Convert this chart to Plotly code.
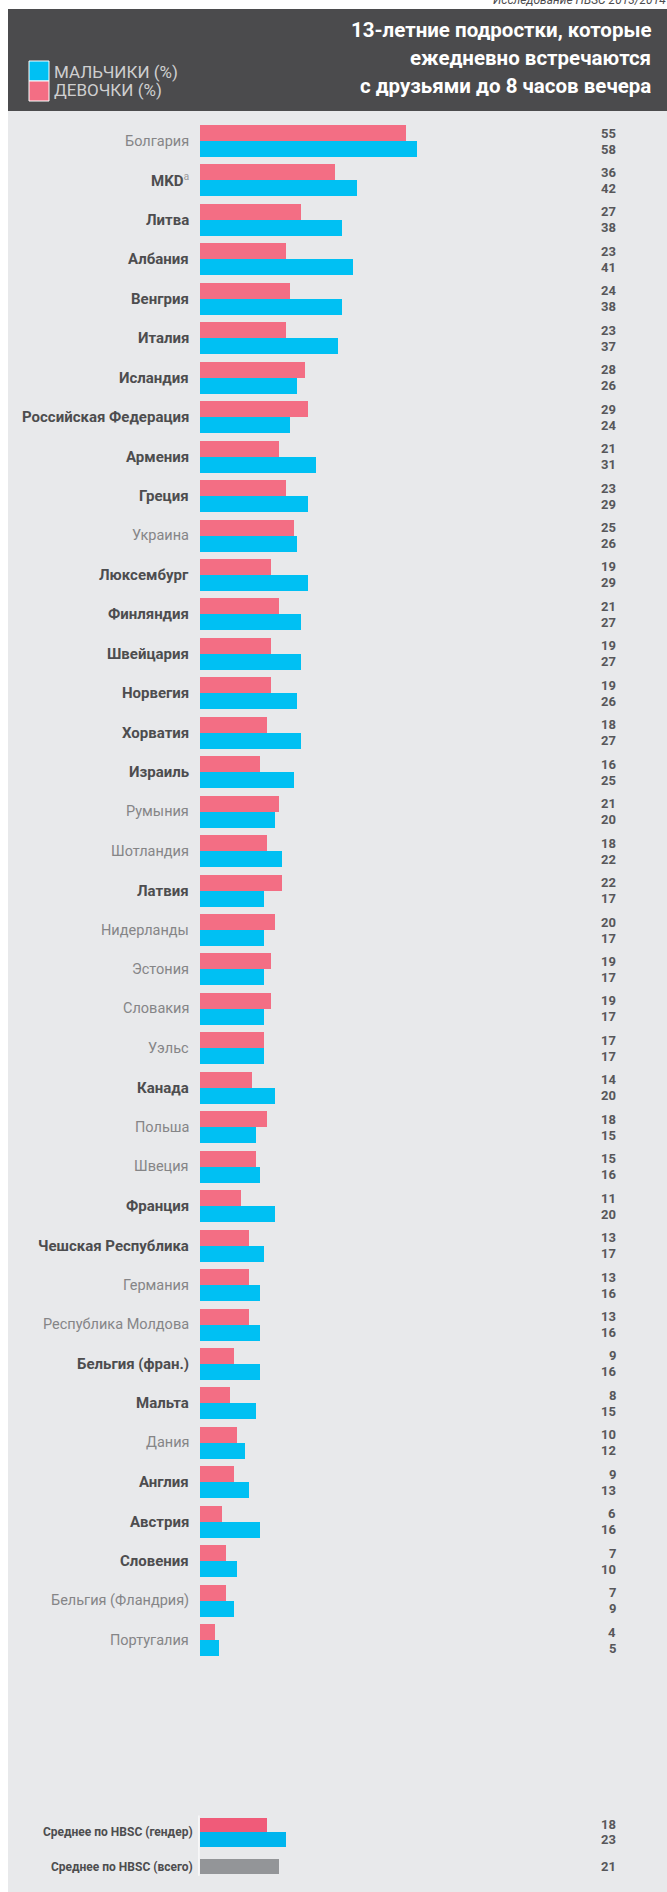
import plotly.graph_objects as go

# ---------------- data ----------------
countries = [
    "Болгария", "MKD", "Литва", "Албания", "Венгрия", "Италия", "Исландия",
    "Российская Федерация", "Армения", "Греция", "Украина", "Люксембург",
    "Финляндия", "Швейцария", "Норвегия", "Хорватия", "Израиль", "Румыния",
    "Шотландия", "Латвия", "Нидерланды", "Эстония", "Словакия", "Уэльс",
    "Канада", "Польша", "Швеция", "Франция", "Чешская Республика", "Германия",
    "Республика Молдова", "Бельгия (фран.)", "Мальта", "Дания", "Англия",
    "Австрия", "Словения", "Бельгия (Фландрия)", "Португалия",
]
girls = [55, 36, 27, 23, 24, 23, 28, 29, 21, 23, 25, 19, 21, 19, 19, 18, 16, 21,
         18, 22, 20, 19, 19, 17, 14, 18, 15, 11, 13, 13, 13, 9, 8, 10, 9, 6, 7, 7, 4]
boys = [58, 42, 38, 41, 38, 37, 26, 24, 31, 29, 26, 29, 27, 27, 26, 27, 25, 20,
        22, 17, 17, 17, 17, 17, 20, 15, 16, 20, 17, 16, 16, 16, 15, 12, 13, 16, 10, 9, 5]
# significant gender difference (label shown in bold)
significant = [False, True, True, True, True, True, True, True, True, True, False, True,
               True, True, True, True, True, False, False, True, False, False, False, False,
               True, False, False, True, True, False, False, True, True, False, True,
               True, True, False, False]
footnote = {"MKD": "a"}

avg_labels = ["Среднее по HBSC (гендер)", "Среднее по HBSC (всего)"]
avg_girls = [18]
avg_boys = [23]
avg_all = [21]

legend_labels = ["МАЛЬЧИКИ (%)", "ДЕВОЧКИ (%)"]
title_lines = ["13-летние подростки, которые", "ежедневно встречаются",
               "с друзьями до 8 часов вечера"]
source = "Исследование HBSC 2013/2014 гг."

# ---------------- layout constants ----------------
W, H = 667, 1892
X0_PX, PX_PER_UNIT = 200.0, 3.74
ROW0_PX, ROW_PX = 141.0, 39.45
BAR = 16.0 / ROW_PX
AVG_BAR = 14.5 / ROW_PX

PINK, BLUE = "#f36e84", "#00c0f3"
PINK_AVG, BLUE_AVG, GREY_AVG = "#f05b79", "#00b5ee", "#939598"
PANEL, HEADER = "#e8e9eb", "#4b4b4d"
DARK_TXT, LIGHT_TXT, VAL_TXT = "#4d4d4f", "#858587", "#57575a"
FONT = "Roboto, Lato, DejaVu Sans Condensed, sans-serif"

x_range = [-X0_PX / PX_PER_UNIT, (W - X0_PX) / PX_PER_UNIT]
y_range = [(H - ROW0_PX) / ROW_PX, -ROW0_PX / ROW_PX]

pos = list(range(len(countries)))
pos_avg_gender = (1832.0 - ROW0_PX) / ROW_PX
pos_avg_all = (1866.5 - ROW0_PX) / ROW_PX


def py(px):
    return 1 - px / H


def pxx(px):
    return px / W


fig = go.Figure()
common = dict(orientation="h", hoverinfo="skip", showlegend=False)
fig.add_trace(go.Bar(x=girls, y=pos, width=BAR, offset=-BAR,
                     marker=dict(color=PINK, line=dict(width=0)), **common))
fig.add_trace(go.Bar(x=boys, y=pos, width=BAR, offset=0,
                     marker=dict(color=BLUE, line=dict(width=0)), **common))
fig.add_trace(go.Bar(x=avg_girls, y=[pos_avg_gender], width=AVG_BAR, offset=-AVG_BAR,
                     marker=dict(color=PINK_AVG, line=dict(width=0)), **common))
fig.add_trace(go.Bar(x=avg_boys, y=[pos_avg_gender], width=AVG_BAR, offset=0,
                     marker=dict(color=BLUE_AVG, line=dict(width=0)), **common))
fig.add_trace(go.Bar(x=avg_all, y=[pos_avg_all], width=AVG_BAR, offset=-AVG_BAR / 2,
                     marker=dict(color=GREY_AVG, line=dict(width=0)), **common))

shapes = [
    dict(type="rect", xref="paper", yref="paper", x0=pxx(8), x1=1, y0=0, y1=py(111),
         fillcolor=PANEL, line=dict(width=0), layer="below"),
    dict(type="rect", xref="paper", yref="paper", x0=pxx(8), x1=1, y0=py(111), y1=py(9),
         fillcolor=HEADER, line=dict(width=0), layer="below"),
    dict(type="rect", xref="paper", yref="paper", x0=pxx(29), x1=pxx(49), y0=py(81), y1=py(61),
         fillcolor=BLUE, line=dict(width=1, color="#ffffff")),
    dict(type="rect", xref="paper", yref="paper", x0=pxx(29), x1=pxx(49), y0=py(101), y1=py(81),
         fillcolor=PINK, line=dict(width=1, color="#ffffff")),
    dict(type="line", xref="x", yref="y", x0=-0.3, x1=-0.3,
         y0=pos_avg_gender - AVG_BAR - 0.05, y1=pos_avg_all + AVG_BAR / 2 + 0.05,
         line=dict(width=1.5, color="#fafafa")),
]

ann = []
# source line (cut at the top/right edge as in the original)
ann.append(dict(xref="paper", yref="paper", x=pxx(684), y=py(9), xanchor="right", yanchor="bottom",
                text=source, showarrow=False,
                font=dict(family=FONT, size=12, color=DARK_TXT, style="italic")))
# title
for k, line in enumerate(title_lines):
    ann.append(dict(xref="paper", yref="paper", x=pxx(653), y=py(30 + 28 * k),
                    xanchor="right", yanchor="middle", text=line, showarrow=False,
                    font=dict(family=FONT, size=20.5, color="#ffffff", weight="bold")))
# legend texts
for k, lab in enumerate(legend_labels):
    ann.append(dict(xref="paper", yref="paper", x=pxx(52), y=py(72 + 18 * k),
                    xanchor="left", yanchor="middle", text=lab, showarrow=False,
                    font=dict(family=FONT, size=17, color="#cfcfd0")))
# country labels and values
for i, c in enumerate(countries):
    txt = c
    if c in footnote:
        txt = c + "<span style='color:#9a9a9c;font-weight:normal'><sup>" + footnote[c] + "</sup></span>"
    ann.append(dict(xref="x", yref="y", x=0, y=pos[i], xshift=-9, xanchor="right", yanchor="middle",
                    text=txt, showarrow=False,
                    font=dict(family=FONT, size=15 if significant[i] else 14.5,
                              color=DARK_TXT if significant[i] else LIGHT_TXT,
                              weight="bold" if significant[i] else "normal")))
    for v, off in ((girls[i], -BAR / 2), (boys[i], BAR / 2)):
        ann.append(dict(xref="paper", yref="y", x=pxx(618), y=pos[i] + off, xanchor="right",
                        yanchor="middle", text=str(v), showarrow=False,
                        font=dict(family=FONT, size=13, color=VAL_TXT, weight="bold")))
# averages
for lab, p in zip(avg_labels, [pos_avg_gender, pos_avg_all]):
    ann.append(dict(xref="x", yref="y", x=0, y=p, xshift=-5, xanchor="right", yanchor="middle",
                    text=lab, showarrow=False,
                    font=dict(family=FONT, size=12, color=DARK_TXT, weight="bold")))
for v, p in ((avg_girls[0], pos_avg_gender - AVG_BAR / 2), (avg_boys[0], pos_avg_gender + AVG_BAR / 2),
             (avg_all[0], pos_avg_all)):
    ann.append(dict(xref="paper", yref="y", x=pxx(618), y=p, xanchor="right", yanchor="middle",
                    text=str(v), showarrow=False,
                    font=dict(family=FONT, size=13, color=VAL_TXT, weight="bold")))

fig.update_layout(
    width=W, height=H, autosize=False,
    margin=dict(l=0, r=0, t=0, b=0, pad=0),
    paper_bgcolor="#ffffff", plot_bgcolor="rgba(0,0,0,0)",
    barmode="overlay", bargap=0,
    xaxis=dict(range=x_range, visible=False, fixedrange=True, showgrid=False, zeroline=False),
    yaxis=dict(range=y_range, visible=False, fixedrange=True, showgrid=False, zeroline=False),
    shapes=shapes, annotations=ann, hovermode=False,
)

fig.write_html("out.html", config={"displayModeBar": False})
